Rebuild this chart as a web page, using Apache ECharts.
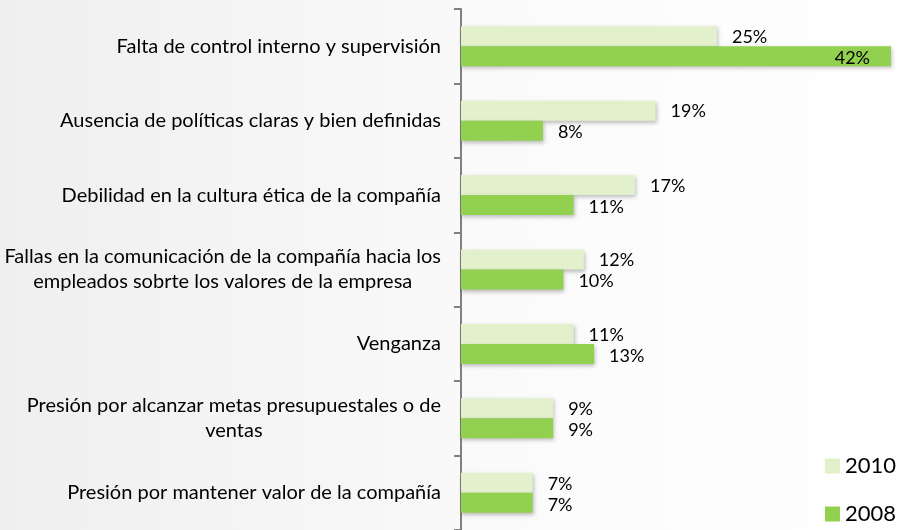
<!DOCTYPE html>
<html>
<head>
<meta charset="utf-8">
<script src="https://cdn.jsdelivr.net/npm/echarts@6/dist/echarts.min.js"></script>
<style>
  html, body { margin: 0; padding: 0; }
  #chart { width: 902px; height: 530px; }
</style>
</head>
<body>
<div id="chart"></div>
<script>
// categorias de arriba hacia abajo
var categories = [
    'Falta de control interno y supervisión',
    'Ausencia de políticas claras y bien definidas',
    'Debilidad en la cultura ética de la compañía',
    'Fallas en la comunicación de la compañía hacia los\nempleados sobrte los valores de la empresa',
    'Venganza',
    'Presión por alcanzar metas presupuestales o de\nventas',
    'Presión por mantener valor de la compañía'
];
var values2010 = [25, 19, 17, 12, 11, 9, 7];
var values2008 = [42, 8, 11, 10, 13, 9, 7];

var chart = echarts.init(document.getElementById('chart'));

var font = 'Lato';

var option = {
    backgroundColor: {
        type: 'linear', x: 0, y: 0, x2: 1, y2: 0,
        colorStops: [{offset: 0, color: '#efefef'}, {offset: 0.6, color: '#fbfbfb'}, {offset: 1, color: '#ffffff'}]
    },
    animation: false,
    legend: {
        orient: 'vertical',
        right: 1,
        top: 450,
        icon: 'rect',
        itemWidth: 15,
        itemHeight: 15,
        itemGap: 26,
        textStyle: {fontFamily: font, fontSize: 22, color: '#000', lineHeight: 22},
        data: ['2010', '2008']
    },
    grid: {left: 461, top: 9, width: 430, height: 525},
    xAxis: {
        type: 'value',
        min: 0,
        max: 42,
        show: false
    },
    yAxis: {
        type: 'category',
        inverse: true,
        data: categories,
        axisLine: {show: true, lineStyle: {color: '#808080', width: 2}},
        axisTick: {show: true, length: 7, lineStyle: {color: '#808080', width: 2}},
        axisLabel: {
            interval: 0,
            margin: 20,
            formatter: function (v) { return '{c|' + v + '}'; },
            rich: {
                c: {align: 'center', fontFamily: font, fontSize: 20, lineHeight: 25, color: '#000'}
            }
        }
    },
    series: [{
        name: '2010',
        type: 'bar',
        data: values2010,
        barWidth: 20,
        barGap: '0%',
        itemStyle: {color: '#e2f0cc', shadowColor: 'rgba(0,0,0,0.25)', shadowBlur: 4, shadowOffsetX: 1, shadowOffsetY: 2},
        label: {
            show: true, position: 'right', distance: 15, offset: [0, 1],
            formatter: '{c}%', fontFamily: font, fontSize: 18, color: '#000'
        }
    }, {
        name: '2008',
        type: 'bar',
        data: values2008.map(function (v, i) {
            if (i === 0) {
                return {value: v, label: {position: 'insideRight', distance: 21}};
            }
            return v;
        }),
        barWidth: 20,
        itemStyle: {color: '#92d050', shadowColor: 'rgba(0,0,0,0.25)', shadowBlur: 4, shadowOffsetX: 1, shadowOffsetY: 2},
        label: {
            show: true, position: 'right', distance: 15, offset: [0, 2],
            formatter: '{c}%', fontFamily: font, fontSize: 18, color: '#000'
        }
    }]
};

chart.setOption(option);
</script>
</body>
</html>
